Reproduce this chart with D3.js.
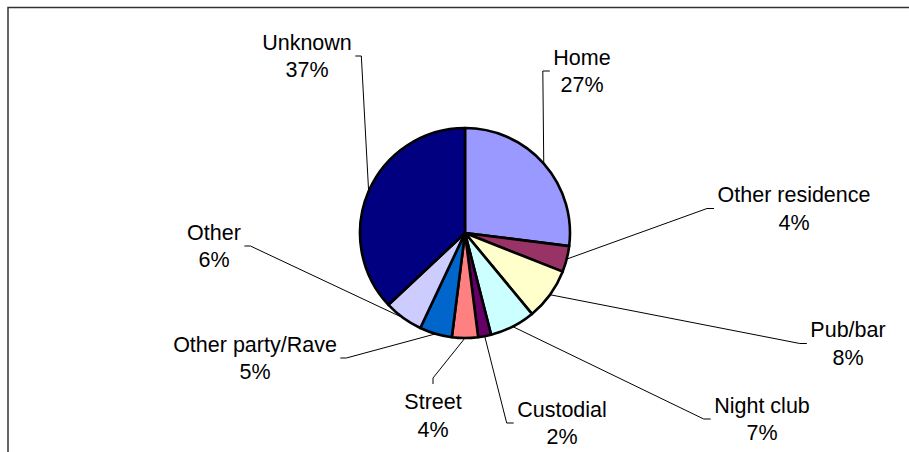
<!DOCTYPE html>
<html>
<head>
<meta charset="utf-8">
<script src="https://cdn.jsdelivr.net/npm/d3@7/dist/d3.min.js"></script>
<style>
  html, body { margin: 0; padding: 0; background: #fff; }
  svg { display: block; }
  text { font-family: "Liberation Sans", Arial, sans-serif; font-size: 21.5px; fill: #000; }
</style>
</head>
<body>
<svg id="chart" width="909" height="452"></svg>
<script>
// Location of incidents, share of total (%)
const categories = ["Home", "Other residence", "Pub/bar", "Night club", "Custodial",
                    "Street", "Other party/Rave", "Other", "Unknown"];
const shares = [27, 4, 8, 7, 2, 4, 5, 6, 37];
const shareLabels = ["27%", "4%", "8%", "7%", "2%", "4%", "5%", "6%", "37%"];

// Slice fills, in category order
const fills = ["#9999FF", "#993366", "#FFFFCC", "#CCFFFF", "#660066",
               "#FF8080", "#0066CC", "#CCCCFF", "#000080"];

// Label layout: text centre x, block middle y, and which side the leader attaches to
const labelLayout = [
  { x: 582, y: 71,    side: "left"  },
  { x: 794, y: 208.5, side: "left"  },
  { x: 848, y: 343.5, side: "left"  },
  { x: 762, y: 419,   side: "left"  },
  { x: 562, y: 423,   side: "left"  },
  { x: 433, y: 415.5, side: "top"   },
  { x: 255, y: 358,   side: "right" },
  { x: 214, y: 246,   side: "right" },
  { x: 307, y: 56,    side: "right" }
];

const width = 909, height = 452;
const cx = 465, cy = 233, radius = 105;

const svg = d3.select("#chart");

// Chart area frame (only top and left edges fall inside the view)
svg.append("path")
  .attr("d", `M8,${height} V7.5 H${width}`)
  .attr("fill", "none")
  .attr("stroke", "#333")
  .attr("stroke-width", 1.5);

const data = categories.map((c, i) => ({ name: c, value: shares[i], label: shareLabels[i], i }));

const pie = d3.pie().sort(null).value(d => d.value).startAngle(0).endAngle(2 * Math.PI);
const arcs = pie(data);

const arc = d3.arc().innerRadius(0).outerRadius(radius);
const edge = d3.arc().innerRadius(radius).outerRadius(radius);

const g = svg.append("g").attr("transform", `translate(${cx},${cy})`);

// Leader lines sit under the slices
const leaderLayer = svg.append("g");
const sliceLayer = g;

sliceLayer.selectAll("path.slice")
  .data(arcs)
  .join("path")
  .attr("class", "slice")
  .attr("d", arc)
  .attr("fill", d => fills[d.data.i])
  .attr("stroke", "#000")
  .attr("stroke-width", 2.6)
  .attr("stroke-linejoin", "round");

// Labels: category name on top line, percentage below
const labelLayer = svg.append("g");
arcs.forEach(d => {
  const L = labelLayout[d.data.i];
  const t = labelLayer.append("text")
    .attr("text-anchor", "middle");
  t.append("tspan").attr("x", L.x).attr("y", L.y - 6.5).text(d.data.name);
  t.append("tspan").attr("x", L.x).attr("y", L.y + 21).text(d.data.label);

  const bb = t.node().getBBox();
  const [ex, ey] = edge.centroid(d);
  const px = cx + ex, py = cy + ey;
  let end, elbow;
  if (L.side === "left") {
    end = [bb.x - 3.5, L.y];
    elbow = [end[0] - 7, L.y];
  } else if (L.side === "right") {
    end = [bb.x + bb.width + 3.5, L.y];
    elbow = [end[0] + 6, L.y];
  } else {
    end = [L.x, bb.y - 6];
    elbow = [L.x, end[1] - 6];
  }
  leaderLayer.append("path")
    .attr("d", d3.line()([[px, py], elbow, end]))
    .attr("fill", "none")
    .attr("stroke", "#000")
    .attr("stroke-width", 1);
});
</script>
</body>
</html>
